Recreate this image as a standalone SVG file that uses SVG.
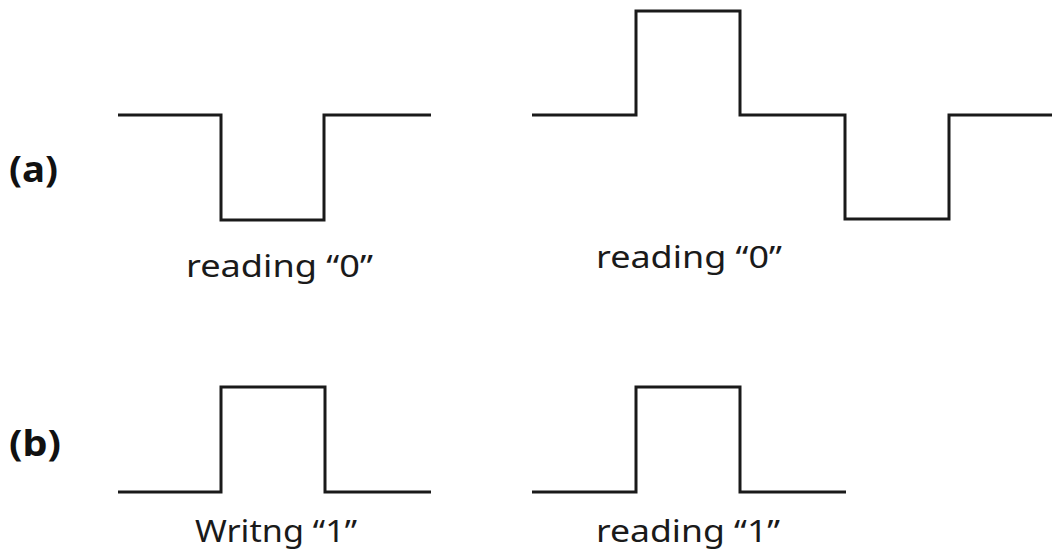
<svg xmlns="http://www.w3.org/2000/svg" width="1054" height="553" viewBox="0 0 1054 553">
<style>
.w{fill:none;stroke:#1a1a1a;stroke-width:3;stroke-linejoin:miter;stroke-linecap:butt}
.t{font-family:"Noto Sans","Open Sans",sans-serif;font-size:31px;fill:#1a1a1a}
.l{font-family:"Noto Sans","Open Sans",sans-serif;font-size:36px;font-weight:bold;fill:#111}
</style>
<rect width="1054" height="553" fill="#fff"/>
<g id="labels">
<text class="l" x="9" y="182" textLength="49" lengthAdjust="spacingAndGlyphs">(a)</text>
<text class="l" x="9" y="456" textLength="52" lengthAdjust="spacingAndGlyphs">(b)</text>
</g>
<g id="connectors">
<path id="wave-a1" class="w" d="M118,115 H221 V220 H324 V115 H431"/>
<path id="wave-a2" class="w" d="M532,115 H636 V11 H740 V115 H845 V219 H949 V115 H1052"/>
<path id="wave-b1" class="w" d="M118,492 H221 V387 H325 V492 H431"/>
<path id="wave-b2" class="w" d="M532,492 H636 V387 H740 V492 H846"/>
</g>
<g id="captions">
<text class="t" x="186" y="277" textLength="187" lengthAdjust="spacingAndGlyphs">reading “0”</text>
<text class="t" x="596" y="268" textLength="186" lengthAdjust="spacingAndGlyphs">reading “0”</text>
<text class="t" x="195" y="542" textLength="162" lengthAdjust="spacingAndGlyphs">Writng “1”</text>
<text class="t" x="596" y="542" textLength="184" lengthAdjust="spacingAndGlyphs">reading “1”</text>
</g>
</svg>
